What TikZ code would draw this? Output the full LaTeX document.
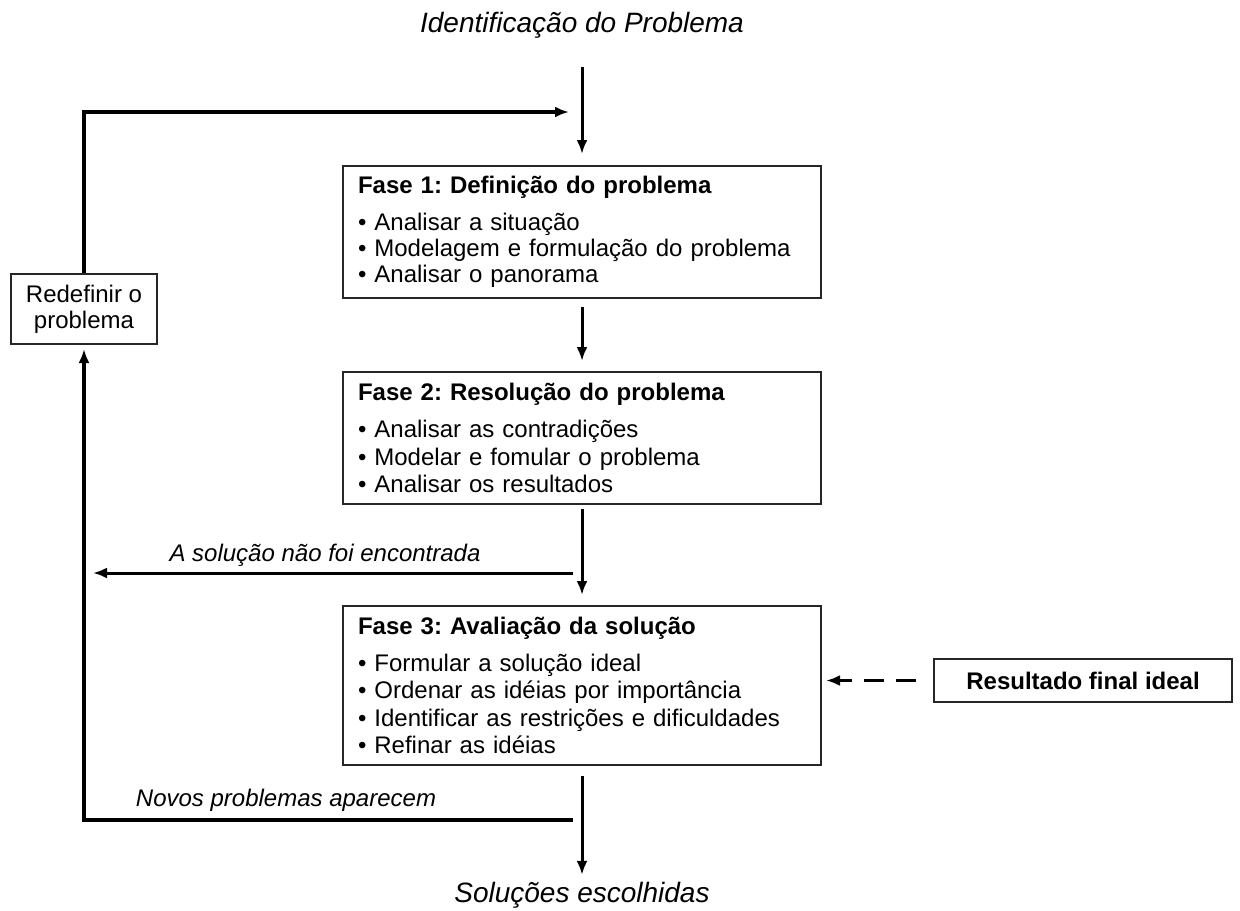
\documentclass[tikz,border=0pt]{standalone}
\usepackage{fontspec}
\setmainfont{Liberation Sans}
\usetikzlibrary{arrows.meta,calc}
\frenchspacing
\begin{document}
\begin{tikzpicture}[x=0.5pt,y=-0.5pt,
  box/.style={draw=black!85, line width=1pt, inner xsep=7.5pt, inner ysep=0pt,
    align=left, text width=224pt, minimum height=#1,
    font=\fontsize{12}{13}\selectfont},
  smallbox/.style={draw=black!85, line width=1pt, inner sep=0pt, align=center,
    font=\fontsize{12}{13}\selectfont},
  arr/.style={line width=1.5pt, -{Latex[length=7pt,width=5.5pt]}},
  thickarr/.style={line width=2.4pt, -{Latex[length=7pt,width=5.5pt]}},
  dasharr/.style={line width=1.5pt, dash pattern=on 10pt off 6pt, -{Latex[length=7pt,width=5.5pt]}},
  bigital/.style={font=\fontsize{14}{16}\selectfont\itshape},
  smallital/.style={font=\fontsize{12}{14}\selectfont\itshape}]
\path[fill=white, use as bounding box] (0,0) rectangle (1240,910);

\node[bigital] (title) at (582,25) {Identificação do Problema};
\node[bigital] (sol) at (582,895) {Soluções escolhidas};

\node[box=66pt] (f1) at (582,232) {\textbf{Fase 1: Definição do problema}\\[5.5pt]
• Analisar a situação\\
• Modelagem e formulação do problema\\
• Analisar o panorama};

\node[box=66pt] (f2) at (582,438) {\textbf{Fase 2: Resolução do problema}\\[5.5pt]
• Analisar as contradições\\[0.8pt]
• Modelar e fomular o problema\\[0.8pt]
• Analisar os resultados};

\node[box=79.5pt] (f3) at (582,685.5) {\textbf{Fase 3: Avaliação da solução}\\[5.5pt]
• Formular a solução ideal\\[0.8pt]
• Ordenar as idéias por importância\\[0.8pt]
• Identificar as restrições e dificuldades\\[0.8pt]
• Refinar as idéias};

\node[smallbox, minimum width=73pt, minimum height=35pt] (redef) at (84,309) {Redefinir o\\problema};
\node[smallbox, minimum width=149pt, minimum height=21.5pt, font=\fontsize{12}{13}\selectfont\bfseries] (res) at (1083,680.5) {Resultado final ideal};

% main flow
\draw[arr, shorten <=11pt, shorten >=5.5pt] (title) -- (f1);
\draw[arr, shorten <=4pt, shorten >=5pt] (f1) -- (f2);
\draw[arr, shorten <=2pt, shorten >=5pt] (f2) -- (f3);
\draw[arr, shorten <=5pt, shorten >=0pt] (f3) -- (sol);

% loop back to top
\coordinate (loopin) at (569,112);
\draw[thickarr] (redef.north) |- (loopin);

% solution not found
\coordinate (nfs) at (573,573);
\coordinate (nfe) at (93,573);
\draw[arr] (nfs) -- (nfe);
\node[smallital] (nflabel) at (325,555) {A solução não foi encontrada};

% new problems appear
\coordinate (nps) at (573,820);
\draw[thickarr, shorten >=2pt] (nps) -| (redef.south);
\node[smallital] (nplabel) at (286,800) {Novos problemas aparecem};

% ideal final result
\draw[dasharr, shorten <=8.5pt, shorten >=2pt] (res.west) -- (res.west -| f3.east);
\end{tikzpicture}
\end{document}
